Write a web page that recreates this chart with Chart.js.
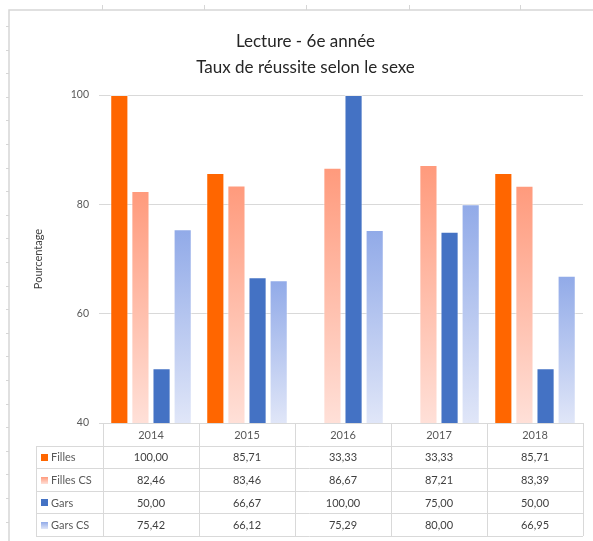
<!DOCTYPE html>
<html>
<head>
<meta charset="utf-8">
<script src="https://cdn.jsdelivr.net/npm/chart.js@4.4.0/dist/chart.umd.min.js"></script>
<style>
  body { margin: 0; background: #fff; }
  canvas { display: block; }
</style>
</head>
<body>
<canvas id="chart" width="593" height="541"></canvas>
<script>
// Lecture - 6e année : données
const annees = ["2014", "2015", "2016", "2017", "2018"];
const filles = [100.0, 85.71, 33.33, 33.33, 85.71];
const fillesCS = [82.46, 83.46, 86.67, 87.21, 83.39];
const gars = [50.0, 66.67, 100.0, 75.0, 50.0];
const garsCS = [75.42, 66.12, 75.29, 80.0, 66.95];
const yTicks = [40, 60, 80, 100];

const FONT = "Lato, 'Open Sans', sans-serif";
const GRID = "#d9d9d9";

// degrade vertical par barre (haut fonce -> bas pale)
function barGradient(colTop, colBottom) {
  return function (ctx) {
    const chart = ctx.chart;
    const { chartArea, scales } = chart;
    if (!chartArea || !ctx.parsed) return colTop;
    const top = scales.y.getPixelForValue(ctx.parsed.y);
    const bottom = scales.y.getPixelForValue(yTicks[0]);
    if (!isFinite(top) || top >= bottom) return colTop;
    const g = chart.ctx.createLinearGradient(0, top, 0, bottom);
    g.addColorStop(0, colTop);
    g.addColorStop(1, colBottom);
    return g;
  };
}

const series = [
  { label: "Filles", data: filles, top: "#ff6600", bottom: "#ff6600" },
  { label: "Filles CS", data: fillesCS, top: "#ff9a7c", bottom: "#ffe0d8" },
  { label: "Gars", data: gars, top: "#4472c4", bottom: "#4472c4" },
  { label: "Gars CS", data: garsCS, top: "#91aae8", bottom: "#e0e6f8" },
];

// cadre de feuille Excel autour du graphique
const sheetPlugin = {
  id: "sheet",
  beforeDraw(chart) {
    const ctx = chart.ctx;
    ctx.save();
    ctx.fillStyle = "#fff";
    ctx.fillRect(0, 0, chart.width, chart.height);
    ctx.strokeStyle = "#d6d6d6";
    ctx.lineWidth = 1.5;
    ctx.beginPath();
    ctx.moveTo(9, chart.height);
    ctx.lineTo(9, 10);
    ctx.lineTo(chart.width, 10);
    ctx.stroke();
    ctx.lineWidth = 1;
    ctx.beginPath();
    for (let y = 26; y < chart.height; y += 23.6) {
      ctx.moveTo(6, Math.round(y) + 0.5);
      ctx.lineTo(9, Math.round(y) + 0.5);
    }
    [102, 204, 306, 409, 520].forEach((x) => {
      ctx.moveTo(x + 0.5, 5);
      ctx.lineTo(x + 0.5, 10);
    });
    ctx.stroke();
    ctx.restore();
  },
};

// table de donnees sous le graphique
const tablePlugin = {
  id: "dataTable",
  afterDraw(chart) {
    const ctx = chart.ctx;
    const xs = chart.scales.x;
    const area = chart.chartArea;
    const n = annees.length;
    const colW = (xs.right - xs.left) / n;
    const rowH = 22.6;
    const tableLeft = 36;
    const y0 = area.bottom;
    const yEnd = y0 + rowH * (series.length + 1);
    const px = (v) => Math.round(v) + 0.5;

    ctx.save();
    ctx.strokeStyle = GRID;
    ctx.lineWidth = 1;
    ctx.beginPath();
    // lignes horizontales
    for (let r = 1; r <= series.length + 1; r++) {
      const y = px(y0 + rowH * r);
      ctx.moveTo(tableLeft, y);
      ctx.lineTo(xs.right, y);
    }
    // lignes verticales
    for (let c = 0; c <= n; c++) {
      const x = px(xs.left + colW * c);
      ctx.moveTo(x, y0);
      ctx.lineTo(x, yEnd);
    }
    ctx.moveTo(px(tableLeft), px(y0 + rowH));
    ctx.lineTo(px(tableLeft), yEnd);
    ctx.stroke();

    ctx.font = "11px " + FONT;
    ctx.textBaseline = "middle";
    ctx.fillStyle = "#595959";
    ctx.textAlign = "center";
    annees.forEach((a, i) => {
      ctx.fillText(a, xs.getPixelForValue(i), y0 + rowH / 2 + 1);
    });

    series.forEach((s, r) => {
      const yc = y0 + rowH * (r + 1.5) + 1;
      // cle de couleur
      const kx = 41, ky = Math.round(yc - 4), k = 7;
      const g = ctx.createLinearGradient(0, ky, 0, ky + k);
      g.addColorStop(0, s.top);
      g.addColorStop(1, s.bottom);
      ctx.fillStyle = g;
      ctx.fillRect(kx, ky, k, k);
      ctx.fillStyle = "#595959";
      ctx.textAlign = "left";
      ctx.fillText(s.label, 51, yc);
      ctx.fillStyle = "#404040";
      ctx.textAlign = "center";
      s.data.forEach((v, i) => {
        ctx.fillText(v.toFixed(2).replace(".", ","), xs.getPixelForValue(i), yc);
      });
    });
    ctx.restore();
  },
};

const ctx = document.getElementById("chart").getContext("2d");
new Chart(ctx, {
  type: "bar",
  data: {
    labels: annees,
    datasets: series.map((s) => ({
      label: s.label,
      data: s.data,
      backgroundColor: barGradient(s.top, s.bottom),
      borderColor: "rgba(255,255,255,0.55)",
      borderWidth: 1,
      categoryPercentage: 0.88,
      barPercentage: 0.86,
    })),
  },
  options: {
    responsive: false,
    animation: false,
    layout: { padding: { left: 28, right: 10, top: 19, bottom: 110 } },
    plugins: {
      legend: { display: false },
      tooltip: { enabled: false },
      title: {
        display: true,
        text: ["Lecture - 6e année", "Taux de réussite selon le sexe"],
        color: "#262626",
        font: { family: FONT, size: 17, weight: "normal", lineHeight: 1.5 },
        padding: { top: 10, bottom: 15 },
      },
    },
    scales: {
      x: {
        ticks: { display: false },
        grid: { display: false },
        border: { display: false },
      },
      y: {
        min: yTicks[0],
        max: yTicks[yTicks.length - 1],
        afterBuildTicks(axis) {
          axis.ticks = yTicks.map((v) => ({ value: v }));
        },
        afterFit(axis) {
          axis.width = 75;
        },
        border: { display: false },
        grid: { color: GRID, lineWidth: 1, tickLength: 4 },
        ticks: {
          color: "#595959",
          padding: 10,
          font: { family: FONT, size: 10.5 },
        },
        title: {
          display: true,
          text: "Pourcentage",
          color: "#404040",
          font: { family: FONT, size: 11 },
          padding: { top: 4, bottom: 4 },
        },
      },
    },
  },
  plugins: [sheetPlugin, tablePlugin],
});
</script>
</body>
</html>
